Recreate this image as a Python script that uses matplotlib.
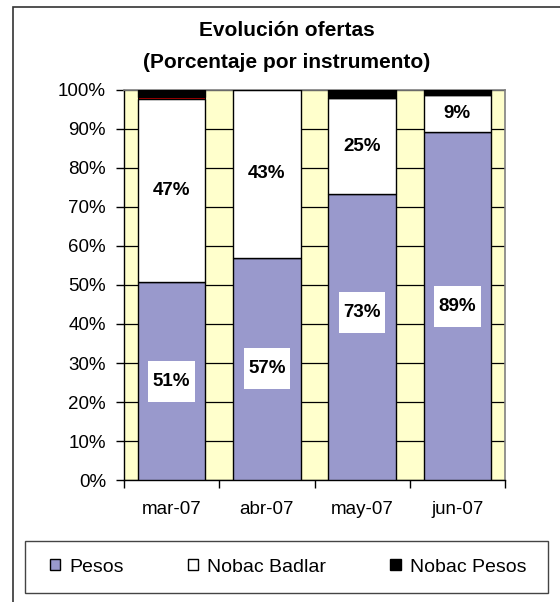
import matplotlib
matplotlib.use('Agg')
import matplotlib.pyplot as plt
from matplotlib.patches import Rectangle
import numpy as np

plt.rcParams['font.family'] = ['Liberation Sans', 'DejaVu Sans']

# data (percent of offers per instrument)
months = ['mar-07', 'abr-07', 'may-07', 'jun-07']
pesos = [50.8, 57.0, 73.2, 89.2]
nobac_badlar = [46.8, 43.0, 24.6, 9.3]
otros = [0.6, 0.0, 0.0, 0.0]        # thin red sliver, not in legend
nobac_pesos = [1.8, 0.0, 2.2, 1.5]

pesos_color = '#9999CC'

fig = plt.figure(figsize=(5.6, 6.02), dpi=100)
ax = fig.add_axes([124/560, 1 - 480.3/602, (505 - 124)/560, (480.3 - 89.5)/602])
ax.set_facecolor('#FFFFCC')

x = np.arange(len(months))
w = 0.71
bottom = np.zeros(len(months))
b1 = ax.bar(x, pesos, w, bottom=bottom, color=pesos_color, edgecolor='black', lw=1, zorder=3)
bottom += pesos
b2 = ax.bar(x, nobac_badlar, w, bottom=bottom, color='white', edgecolor='black', lw=1, zorder=3)
bottom += nobac_badlar
ax.bar(x, otros, w, bottom=bottom, color='#CC0000', edgecolor='black', lw=0.8, zorder=3)
bottom += otros
b3 = ax.bar(x, nobac_pesos, w, bottom=bottom, color='black', edgecolor='black', lw=1, zorder=3)

ax.set_ylim(0, 100)
ax.set_xlim(-0.5, len(months) - 0.5)

labels = []


def label(xc, yc, txt, seg):
    t = ax.text(xc, yc, txt, ha='center', va='center', fontsize=13.5, fontweight='bold', zorder=5)
    labels.append((t, xc, yc, seg))


pesos_label_y = [p / 2 for p in pesos]
pesos_label_y[2] = 43.0  # label moved up in the original
for i in range(len(months)):
    label(x[i], pesos_label_y[i], f'{round(pesos[i])}%', pesos[i])
    label(x[i], pesos[i] + nobac_badlar[i] / 2, f'{round(nobac_badlar[i])}%', nobac_badlar[i])

# white boxes behind labels: text width + a few px, about 41 px tall
fig.canvas.draw()
r = fig.canvas.get_renderer()
px_x = ax.bbox.width / 4.0
px_y = ax.bbox.height / 100.0
for t, xc, yc, seg in labels:
    bb = t.get_window_extent(r)
    bw = (bb.width + 9) / px_x
    bh = min(41 / px_y, seg - 0.8)
    ax.add_patch(Rectangle((xc - bw / 2, yc - bh / 2), bw, bh, fc='white', ec='none', zorder=4))

ax.set_yticks(np.arange(0, 101, 10))
ax.set_yticklabels([f'{v}%' for v in range(0, 101, 10)], fontsize=13.5)
ax.yaxis.grid(True, color='black', lw=0.9, zorder=0)
ax.set_axisbelow(True)

ax.set_xticks(np.arange(-0.5, len(months), 1))
ax.set_xticklabels([])
ax.set_xticks(x, minor=True)
ax.set_xticklabels(months, minor=True, fontsize=13.5)
ax.tick_params(axis='x', which='major', length=6, width=1, direction='out')
ax.tick_params(axis='x', which='minor', length=0, pad=15)
ax.tick_params(axis='y', length=6, width=1, direction='out', pad=7)

for s in ['left', 'bottom']:
    ax.spines[s].set_color('black')
    ax.spines[s].set_linewidth(1)
for s in ['top', 'right']:
    ax.spines[s].set_color('#808080')
    ax.spines[s].set_linewidth(1.2)

# title
fig.text(287/560, 1 - 30/602, 'Evolución ofertas', ha='center', va='center',
         fontsize=15, fontweight='bold')
fig.text(287/560, 1 - 62/602, '(Porcentaje por instrumento)', ha='center', va='center',
         fontsize=15, fontweight='bold')

# outer chart frame (runs off the picture right and bottom)
fig.patches.append(Rectangle((13/560, -0.1), 1.2, 1.1 - 7/602, transform=fig.transFigure,
                             fill=False, ec='#333333', lw=1.2, clip_on=False))

# legend box
fig.patches.append(Rectangle((25/560, 1 - 593/602), 523/560, 52/602, transform=fig.transFigure,
                             fill=False, ec='#444444', lw=1, clip_on=False))
fig.legend([b1, b2, b3], ['Pesos', 'Nobac Badlar', 'Nobac Pesos'], loc='center',
           bbox_to_anchor=(288/560, 1 - 567/602), ncol=3, frameon=False, fontsize=14,
           handlelength=0.55, handleheight=0.55, handletextpad=0.45, columnspacing=3.3)

fig.savefig('out.png', dpi=100)
